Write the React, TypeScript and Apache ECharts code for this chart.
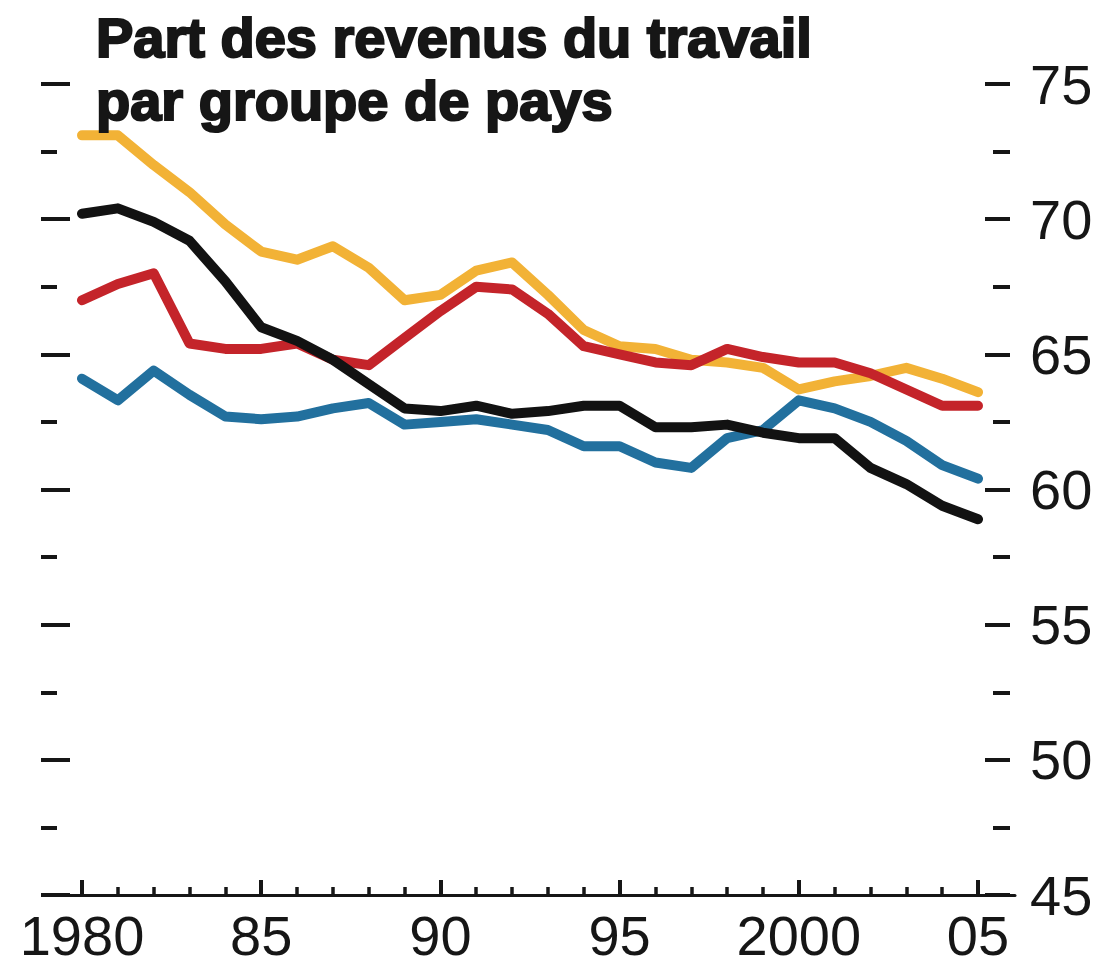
import React, { useEffect, useRef } from "react";
import * as echarts from "echarts";

const years = [
  1980, 1981, 1982, 1983, 1984, 1985, 1986, 1987, 1988, 1989, 1990, 1991, 1992,
  1993, 1994, 1995, 1996, 1997, 1998, 1999, 2000, 2001, 2002, 2003, 2004, 2005,
];
const yellowShare = [
  73.1, 73.1, 72.0, 71.0, 69.8, 68.8, 68.5, 69.0, 68.2, 67.0, 67.2, 68.1, 68.4,
  67.2, 65.9, 65.3, 65.2, 64.8, 64.7, 64.5, 63.7, 64.0, 64.2, 64.5, 64.1, 63.6,
];
const redShare = [
  67.0, 67.6, 68.0, 65.4, 65.2, 65.2, 65.4, 64.8, 64.6, 65.6, 66.6, 67.5, 67.4,
  66.5, 65.3, 65.0, 64.7, 64.6, 65.2, 64.9, 64.7, 64.7, 64.3, 63.7, 63.1, 63.1,
];
const blueShare = [
  64.1, 63.3, 64.4, 63.5, 62.7, 62.6, 62.7, 63.0, 63.2, 62.4, 62.5, 62.6, 62.4,
  62.2, 61.6, 61.6, 61.0, 60.8, 61.9, 62.2, 63.3, 63.0, 62.5, 61.8, 60.9, 60.4,
];
const blackShare = [
  70.2, 70.4, 69.9, 69.2, 67.7, 66.0, 65.5, 64.8, 63.9, 63.0, 62.9, 63.1, 62.8,
  62.9, 63.1, 63.1, 62.3, 62.3, 62.4, 62.1, 61.9, 61.9, 60.8, 60.2, 59.4, 58.9,
];
const xTickYears = [1980, 1985, 1990, 1995, 2000, 2005];
const xTickLabels = ["1980", "85", "90", "95", "2000", "05"];

const INK = "#161616";
const FONT = "'Liberation Sans', Arial, sans-serif";

export default function App() {
  const ref = useRef<HTMLDivElement>(null);

  useEffect(() => {
    if (!ref.current) return;
    const chart = echarts.init(ref.current, null, { renderer: "svg" });
    const pairs = (vals: number[]) => years.map((y, i) => [y, vals[i]]);
    const lineSeries = (name: string, vals: number[], color: string) => ({
      name,
      type: "line",
      xAxisIndex: 0,
      yAxisIndex: 0,
      data: pairs(vals),
      showSymbol: false,
      symbol: "none",
      lineStyle: { width: 10, color, cap: "round", join: "round" },
      itemStyle: { color },
    });

    chart.setOption({
      animation: false,
      backgroundColor: "#ffffff",
      title: {
        text: "Part des revenus du travail\npar groupe de pays",
        left: 96,
        top: 6,
        padding: 0,
        textStyle: {
          fontFamily: FONT,
          fontSize: 56,
          fontWeight: "bold",
          lineHeight: 63,
          color: INK,
          textBorderColor: INK,
          textBorderWidth: 2.2,
        },
      },
      grid: [
        { left: 82, right: 126, top: 84, bottom: 71 },
        { left: 46, right: 89, top: 84, bottom: 71 },
      ],
      xAxis: [
        {
          type: "value",
          gridIndex: 0,
          min: 1980,
          max: 2005,
          interval: 5,
          axisLine: { show: false },
          axisTick: { show: true, inside: true, length: 15, lineStyle: { width: 4, color: INK } },
          minorTick: { show: true, splitNumber: 5, length: 8, lineStyle: { width: 3.5, color: INK } },
          splitLine: { show: false },
          minorSplitLine: { show: false },
          axisLabel: {
            formatter: (v: number) => {
              const i = xTickYears.indexOf(v);
              return i >= 0 ? xTickLabels[i] : "";
            },
            fontFamily: FONT,
            fontSize: 56,
            color: INK,
            margin: 12,
          },
        },
        {
          type: "value",
          gridIndex: 1,
          min: 0,
          max: 1,
          axisLine: { show: true, lineStyle: { width: 3, color: INK } },
          axisTick: { show: false },
          axisLabel: { show: false },
          splitLine: { show: false },
        },
      ],
      yAxis: [
        {
          type: "value",
          gridIndex: 0,
          position: "right",
          offset: 32,
          min: 45,
          max: 75,
          interval: 5,
          axisLine: { show: false },
          axisTick: { show: true, inside: true, length: 25, lineStyle: { width: 4, color: INK } },
          minorTick: { show: true, splitNumber: 2, length: 17, lineStyle: { width: 4, color: INK } },
          splitLine: { show: false },
          minorSplitLine: { show: false },
          axisLabel: { fontFamily: FONT, fontSize: 56, color: INK, margin: 20 },
        },
        {
          type: "value",
          gridIndex: 0,
          position: "left",
          offset: 41,
          min: 45,
          max: 75,
          interval: 5,
          axisLine: { show: false },
          axisTick: { show: true, inside: true, length: 29, lineStyle: { width: 4, color: INK } },
          minorTick: { show: true, splitNumber: 2, length: 16, lineStyle: { width: 4, color: INK } },
          splitLine: { show: false },
          minorSplitLine: { show: false },
          axisLabel: { show: false },
        },
        { type: "value", gridIndex: 1, min: 0, max: 1, show: false },
      ],
      series: [
        lineSeries("Groupe jaune", yellowShare, "#F2B236"),
        lineSeries("Groupe rouge", redShare, "#C4242A"),
        lineSeries("Groupe bleu", blueShare, "#22709E"),
        lineSeries("Groupe noir", blackShare, "#121212"),
      ],
    });

    return () => chart.dispose();
  }, []);

  return (
    <div
      ref={ref}
      style={{ position: "fixed", left: 0, top: 0, width: 1104, height: 966, background: "#ffffff" }}
    />
  );
}
